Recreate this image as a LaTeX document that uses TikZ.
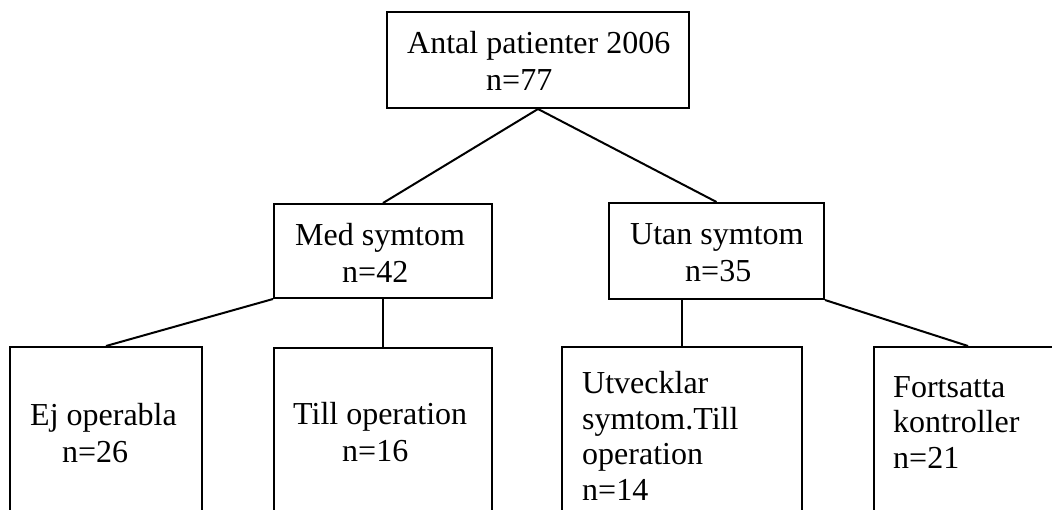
\documentclass[tikz,border=0pt]{standalone}
\usepackage{fontspec}
\setmainfont{Liberation Serif}
\begin{document}
\begin{tikzpicture}[x=1pt,y=-1pt,
  box/.style={draw, line width=2pt, inner sep=0pt},
  txt/.style={anchor=base west, inner sep=0pt, align=left, font=\fontsize{32}{37}\selectfont},
  conn/.style={line width=2pt}]
\useasboundingbox (0,0) rectangle (1052,509);
\clip (0,0) rectangle (1052,509);
% boxes
\node[box, minimum width=302pt, minimum height=96pt] (top) at (538,60) {};
\node[box, minimum width=218pt, minimum height=94pt] (med) at (383,251) {};
\node[box, minimum width=215pt, minimum height=96pt] (utan) at (716.5,251) {};
\node[box, minimum width=192pt, minimum height=200pt] (ej) at (106,447) {};
\node[box, minimum width=218pt, minimum height=200pt] (till) at (383,448) {};
\node[box, minimum width=240pt, minimum height=200pt] (utv) at (682,447) {};
\node[box, minimum width=188pt, minimum height=200pt] (fort) at (968,447) {};
% texts (anchor is the baseline of the last line)
\node[txt] (ttop) at (407,90) {Antal patienter 2006\\\hspace*{79pt}n=77};
\node[txt] (tmed) at (295,282) {Med symtom\\\hspace*{47pt}n=42};
\node[txt] (tutan) at (630,281) {Utan symtom\\\hspace*{55pt}n=35};
\node[txt] (tej) at (30,462) {Ej operabla\\\hspace*{32pt}n=26};
\node[txt] (ttill) at (293,461) {Till operation\\\hspace*{49pt}n=16};
\node[txt, font=\fontsize{32}{35.5}\selectfont] (tutv) at (582,500) {Utvecklar\\symtom.Till\\operation\\n=14};
\node[txt, font=\fontsize{32}{35.5}\selectfont] (tfort) at (893,468) {Fortsatta\\kontroller\\n=21};
% connectors
\draw[conn] (top.south) -- (med.north);
\draw[conn] (top.south) -- (utan.north);
\draw[conn] (med.south west) -- (ej.north);
\draw[conn] (med.south) -- (till.north);
\draw[conn] (utv.north |- utan.south) -- (utv.north);
\draw[conn] (utan.south east) -- (fort.north);
\end{tikzpicture}
\end{document}
